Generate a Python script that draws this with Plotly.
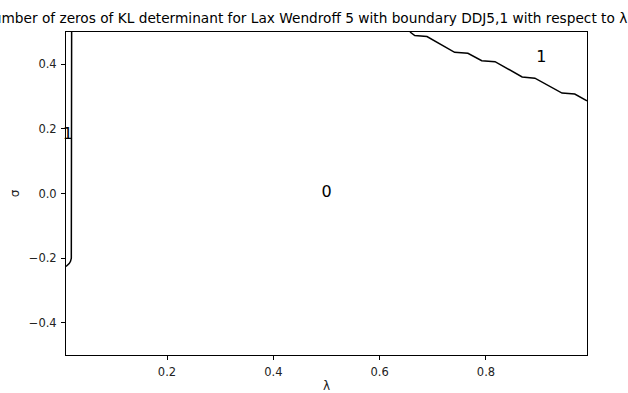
import plotly.graph_objects as go

# contour line values
left_lam = [0.0206, 0.0206, 0.0200, 0.0185, 0.0160, 0.0120, 0.0100]
left_sig = [0.500, -0.185, -0.200, -0.210, -0.217, -0.223, -0.226]

right_lam = [0.657, 0.666, 0.689, 0.741, 0.766, 0.792, 0.817, 0.868, 0.892, 0.943, 0.967, 0.990]
right_sig = [0.500, 0.489, 0.486, 0.437, 0.434, 0.411, 0.408, 0.361, 0.357, 0.311, 0.308, 0.287]

# region labels
label_lam = [0.0134, 0.500, 0.904]
label_sig = [0.180, 0.002, 0.420]
label_txt = ["1", "0", "1"]

FONT = "DejaVu Sans"

fig = go.Figure()
for xs, ys in [(left_lam, left_sig), (right_lam, right_sig)]:
    fig.add_trace(go.Scatter(
        x=xs, y=ys, mode="lines",
        line=dict(color="black", width=1.5),
        hoverinfo="skip", showlegend=False,
    ))

fig.add_trace(go.Scatter(
    x=label_lam, y=label_sig, mode="text", text=label_txt,
    textfont=dict(family=FONT, size=16, color="black"),
    hoverinfo="skip", showlegend=False, cliponaxis=False,
))

axis_common = dict(
    showgrid=False, zeroline=False, showline=True, mirror=True,
    linecolor="black", linewidth=1, ticks="outside", ticklen=4,
    tickcolor="black", tickfont=dict(family=FONT, size=11.5, color="#222"),
    ticklabelstandoff=2, automargin=False,
)

fig.update_layout(
    width=628, height=393,
    margin=dict(l=66, r=41, t=32, b=38),
    paper_bgcolor="white", plot_bgcolor="white",
    title=dict(
        text="Number of zeros of KL determinant for Lax Wendroff 5 with boundary DDJ5,1 with respect to λ and σ",
        x=0.5, xref="paper", xanchor="center", y=0.953, yanchor="middle",
        font=dict(family=FONT, size=13.7, color="black"),
        automargin=False,
    ),
    xaxis=dict(
        range=[0.01, 0.99], tickvals=[0.2, 0.4, 0.6, 0.8],
        ticktext=["0.2", "0.4", "0.6", "0.8"],
        title=dict(text="λ", font=dict(family=FONT, size=12, color="#222"), standoff=3),
        **axis_common,
    ),
    yaxis=dict(
        range=[-0.5, 0.5], tickvals=[-0.4, -0.2, 0.0, 0.2, 0.4],
        ticktext=["−0.4", "−0.2", "0.0", "0.2", "0.4"],
        title=dict(text="σ", font=dict(family=FONT, size=12, color="#222"), standoff=6),
        **axis_common,
    ),
)

# drop the default page margin so the figure sits at the window's corner
fig.write_html(
    "out.html",
    config={"displayModeBar": False},
    post_script="document.body.style.margin='0';",
)
